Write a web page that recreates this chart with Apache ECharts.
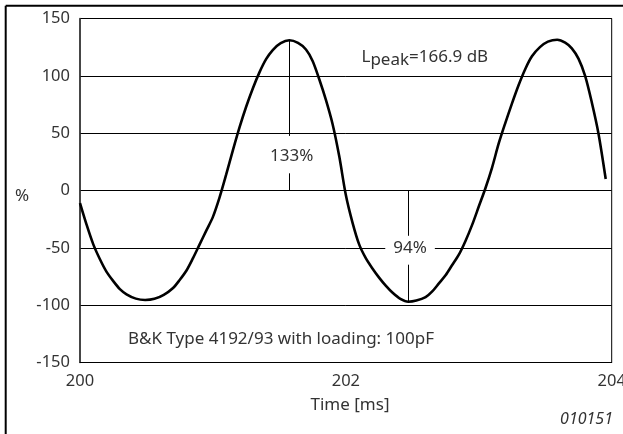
<!DOCTYPE html>
<html>
<head>
<meta charset="utf-8">
<script src="https://cdn.jsdelivr.net/npm/echarts@6/dist/echarts.min.js"></script>
<style>
html,body{margin:0;padding:0;background:#fff;}
#chart{width:623px;height:434px;}
</style>
</head>
<body>
<div id="chart"></div>
<script>
// ---- data ----
var timeMs = [200.00, 200.05, 200.10, 200.15, 200.20, 200.25, 200.30, 200.35, 200.42,
              200.49, 200.56, 200.63, 200.70, 200.75, 200.80, 200.85, 200.90, 200.95,
              201.00, 201.05, 201.10, 201.15, 201.20, 201.25, 201.30, 201.35, 201.40, 201.45,
              201.51, 201.575, 201.64, 201.70, 201.75, 201.80, 201.85, 201.90, 201.95,
              202.00, 202.05, 202.10, 202.15, 202.20, 202.25, 202.30, 202.35, 202.41,
              202.47, 202.53, 202.60, 202.65, 202.70, 202.75, 202.80, 202.85, 202.90, 202.95,
              203.00, 203.05, 203.10, 203.15, 203.20, 203.25, 203.30, 203.35, 203.40, 203.46,
              203.52, 203.59, 203.65, 203.70, 203.75, 203.80, 203.85, 203.90, 203.955];
var percent = [-11, -30, -47, -60, -71, -79, -86, -90.5, -94.3,
               -95.5, -94.5, -91, -85, -78, -70, -59, -47, -35,
               -23, -6, 14, 35, 55, 73, 89, 103, 114.5, 122.5,
               128.5, 131, 128.7, 123, 113, 97, 79, 58, 30,
               -4, -28, -47, -59, -68, -76, -83, -89, -94.5,
               -97, -96, -93, -88, -81, -74, -65, -56, -44, -30,
               -14, 2, 20, 41, 59, 76, 92, 106, 117, 125,
               129.8, 131.5, 129, 124, 115, 100, 77, 50, 10];
var xTicks = [200, 202, 204];
var yTicks = [-150, -100, -50, 0, 50, 100, 150];
// annotations (data coordinates)
var peakT = 201.575, peakV = 131;
var troughT = 202.47, troughV = -97;
var peakLabel = '133%', troughLabel = '94%';
var peakLabelPos = [201.593, 30];
var troughLabelPos = [202.483, -50];

var FONT = 'Noto Sans';
function textW(str, size, style) {
  var c = document.createElement('canvas').getContext('2d');
  c.font = (style || '') + ' ' + size + 'px "' + FONT + '"';
  return c.measureText(str).width;
}
var lx = 361.5;
var wL = textW('L', 17), wP = textW('peak', 17);

var chart = echarts.init(document.getElementById('chart'));
var option = {
  animation: false,
  backgroundColor: '#fff',
  grid: {left: 80, right: 11.3, top: 18.5, bottom: 71.5, show: true, borderColor: '#000', borderWidth: 1,
         outerBoundsMode: 'none', containLabel: false},
  xAxis: {
    type: 'value', min: xTicks[0], max: xTicks[xTicks.length - 1], interval: 2,
    axisLine: {show: true, onZero: false, lineStyle: {color: '#000', width: 1}},
    axisTick: {show: false},
    splitLine: {show: false},
    axisLabel: {color: '#333', fontFamily: FONT, fontSize: 16.5, margin: 10}
  },
  yAxis: {
    type: 'value', min: yTicks[0], max: yTicks[yTicks.length - 1], interval: 50,
    axisLine: {show: true, lineStyle: {color: '#333', width: 1.5}},
    axisTick: {show: false},
    splitLine: {show: true, lineStyle: {color: '#000', width: 1}},
    axisLabel: {color: '#333', fontFamily: FONT, fontSize: 16.5, margin: 10}
  },
  series: [{
    type: 'line',
    data: timeMs.map(function (t, i) { return [t, percent[i]]; }),
    showSymbol: false,
    smooth: 0.3,
    lineStyle: {color: '#000', width: 2.6},
    z: 3,
    markLine: {
      silent: true, symbol: 'none',
      lineStyle: {color: '#000', width: 1, type: 'solid'},
      label: {show: false},
      data: [
        [{coord: [peakT, peakV]}, {coord: [peakT, 47.6]}],
        [{coord: [peakT, 15]}, {coord: [peakT, 0]}],
        [{coord: [troughT, 0]}, {coord: [troughT, -39.5]}],
        [{coord: [troughT, -64.7]}, {coord: [troughT, troughV]}]
      ]
    },
    markPoint: {
      silent: true, symbol: 'rect', symbolSize: 0,
      label: {show: true, position: 'inside', color: '#333', fontFamily: FONT, fontSize: 17},
      data: [
        {coord: peakLabelPos, label: {formatter: peakLabel}},
        {coord: troughLabelPos, label: {formatter: troughLabel, backgroundColor: '#fff', padding: [3, 8]}}
      ]
    }
  }],
  graphic: [
    {type: 'line', shape: {x1: 5.7, y1: 5.7, x2: 623, y2: 5.7}, style: {stroke: '#000', lineWidth: 2}},
    {type: 'line', shape: {x1: 5.7, y1: 5.7, x2: 5.7, y2: 434}, style: {stroke: '#000', lineWidth: 2}},
    {type: 'text', x: 22, y: 196, style: {text: '%', font: '17px "' + FONT + '"', fill: '#333', align: 'center', verticalAlign: 'middle'}},
    {type: 'text', x: 350, y: 405, style: {text: 'Time [ms]', font: '17px "' + FONT + '"', fill: '#333', align: 'center', verticalAlign: 'middle'}},
    {type: 'text', x: 613, y: 419, style: {text: '010151', font: 'italic 16px "' + FONT + '"', fill: '#333', align: 'right', verticalAlign: 'middle'}},
    {type: 'text', x: 128, y: 339, style: {text: 'B&K Type 4192/93 with loading: 100pF', font: '17px "' + FONT + '"', fill: '#333', align: 'left', verticalAlign: 'middle'}},
    {type: 'text', x: lx, y: 57, style: {text: 'L', font: '17px "' + FONT + '"', fill: '#333', align: 'left', verticalAlign: 'middle'}},
    {type: 'text', x: lx + wL, y: 60.5, style: {text: 'peak', font: '17px "' + FONT + '"', fill: '#333', align: 'left', verticalAlign: 'middle'}},
    {type: 'text', x: lx + wL + wP, y: 57, style: {text: '=166.9 dB', font: '17px "' + FONT + '"', fill: '#333', align: 'left', verticalAlign: 'middle'}}
  ]
};
chart.setOption(option);
</script>
</body>
</html>
